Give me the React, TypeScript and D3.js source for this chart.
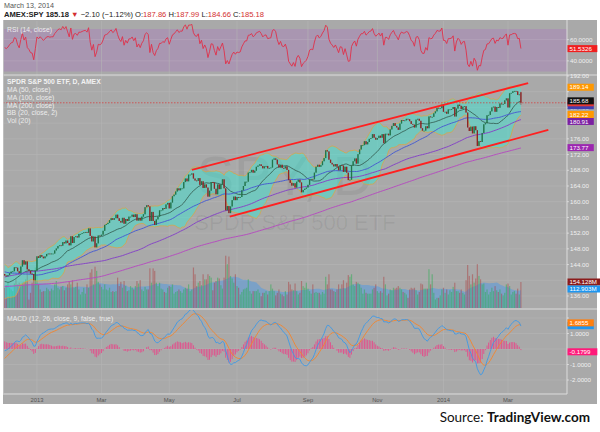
import React from 'react';
import * as d3 from 'd3';

// ---------- DATA ----------
// warm-up closes (Feb 14 2012 - Nov 30 2012), used only for indicator history
const warmCloses = [
  134.8, 134.3, 135.9, 136.1, 136.2, 135.8, 136.4, 136.7, 137.0, 137.4, 137.0,
  138.3, 137.3, 137.6, 135.6, 136.4, 137.7, 138.3, 137.9, 140.5, 140.8, 141.2, 140.9, 140.3, 139.5, 139.9, 140.8, 142.3, 141.6, 140.9, 140.5, 141.2, 140.8,
  141.8, 141.2, 139.8, 138.2, 136.1, 137.1, 138.9, 137.1, 139.5, 139.3, 137.9, 137.6, 136.6, 137.2, 139.0, 140.1, 140.3, 140.8, 140.7, 139.9,
  140.2, 139.6, 137.0, 136.7, 135.9, 135.8, 136.2, 134.7, 133.7, 132.8, 132.4, 130.8, 129.7, 131.4, 131.4, 132.6, 131.1, 131.6, 133.9, 131.9, 130.0, 131.5,
  128.2, 128.2, 131.1, 131.2, 132.7, 131.3, 129.9, 131.3, 130.6, 131.9, 133.3, 133.2, 134.4, 134.1, 131.4, 131.8, 130.2, 130.6, 131.7, 133.3, 136.1,
  136.5, 137.2, 135.9, 134.1, 133.0, 132.9, 132.0, 131.8, 133.8, 133.5, 134.4, 135.3, 136.5, 135.3, 133.1, 132.0, 132.1, 134.3, 137.3, 137.7, 136.7,
  137.5, 136.5, 136.4, 139.4, 139.8, 140.7, 140.9, 140.8, 140.8, 141.0, 141.0, 140.6, 141.7, 142.0, 142.2, 141.9, 140.4, 141.0, 140.0, 140.6, 140.6, 139.9, 141.2,
  141.3, 140.9, 143.8, 144.3, 143.5, 143.9, 144.4, 146.6, 146.6, 146.5, 146.1, 146.1, 146.2, 145.9, 144.6, 143.3, 144.6, 143.7, 143.3,
  145.1, 145.3, 146.1, 146.1, 145.7, 144.5, 143.1, 143.0, 142.9, 143.7, 145.4, 146.0, 146.0, 144.1, 143.6, 143.5, 140.0, 140.0, 141.5, 141.0, 141.3,
  142.7, 141.5, 142.6, 144.0, 140.2, 138.6, 138.4, 138.4, 137.4, 135.8, 136.0, 136.3, 139.2, 139.3, 139.4, 141.2, 141.0, 140.3, 141.0, 141.9, 141.6,
];

// displayed daily closes, Dec 3 2012 - Mar 13 2014
const closes = [
  // Dec 2012
  141.2, 141.0, 141.3, 141.8, 142.2, 142.3, 143.3, 143.2, 142.3, 141.8, 143.5, 145.1, 144.0, 144.8, 142.8, 142.4, 141.7, 141.6, 140.0, 142.4,
  // Jan 2013
  146.1, 145.7, 146.4, 146.0, 145.6, 146.1, 146.7, 146.8, 146.7, 146.8, 146.8, 147.6, 148.1, 148.7, 148.9, 148.8, 149.7, 149.4, 150.1, 149.5, 148.9,
  // Feb
  151.2, 149.5, 151.0, 151.2, 150.9, 151.8, 151.8, 152.0, 152.2, 152.3, 152.1, 153.2, 151.3, 149.9, 151.1, 148.4, 149.4, 151.4, 151.3,
  // Mar
  151.6, 152.6, 154.1, 154.3, 154.6, 155.3, 155.8, 155.4, 155.8, 156.7, 155.8, 155.1, 154.7, 155.9, 154.4, 155.6, 155.1, 156.2, 156.2, 156.7,
  // Apr
  156.1, 156.8, 155.2, 155.9, 155.2, 156.2, 156.8, 158.6, 159.1, 158.8, 155.1, 157.4, 155.1, 154.1, 155.5, 156.2, 157.8, 157.8, 158.4, 158.2, 159.3, 159.7,
  // May
  158.3, 159.8, 161.4, 161.8, 162.6, 163.4, 162.9, 163.4, 163.4, 165.0, 165.9, 165.2, 166.9, 166.9, 167.2, 165.9, 165.4, 165.3, 166.0, 164.3, 165.2, 163.5,
  // Jun
  164.4, 163.6, 161.3, 162.8, 165.0, 164.9, 163.3, 161.9, 164.4, 163.2, 164.4, 165.7, 163.4, 157.8, 158.9, 157.1, 158.8, 160.4, 161.3, 160.4,
  // Jul
  161.2, 161.0, 161.2, 162.9, 164.0, 165.1, 165.1, 167.4, 167.5, 168.1, 167.4, 167.9, 168.9, 169.2, 169.5, 169.1, 168.5, 169.0, 169.1, 168.5, 168.6, 168.7,
  // Aug
  170.7, 171.0, 170.7, 169.5, 168.7, 169.4, 168.6, 168.5, 169.0, 168.1, 165.5, 164.8, 164.1, 164.7, 163.6, 165.1, 165.6, 164.9, 162.4, 163.0, 163.3, 163.6,
  // Sep
  164.3, 165.6, 165.8, 165.7, 167.4, 168.9, 169.4, 168.9, 169.3, 170.3, 171.1, 173.1, 172.8, 170.7, 169.9, 169.5, 169.0, 169.6, 168.9, 168.0,
  // Oct
  169.3, 169.2, 167.6, 168.9, 167.4, 165.5, 165.6, 169.2, 170.3, 171.0, 169.7, 172.1, 173.3, 174.4, 174.4, 175.4, 174.6, 175.2, 176.0, 176.2, 177.2, 176.3, 175.8,
  // Nov
  176.2, 176.8, 176.3, 177.2, 174.9, 177.3, 177.3, 176.9, 178.4, 179.3, 180.0, 179.3, 178.9, 178.3, 179.9, 180.8, 180.6, 180.7, 181.1, 181.0,
  // Dec
  180.5, 179.8, 179.6, 178.9, 180.9, 181.1, 180.6, 178.7, 178.1, 178.1, 179.2, 178.7, 181.7, 181.5, 181.6, 182.5, 183.0, 183.9, 183.8, 183.8, 184.7,
  // Jan 2014
  182.9, 182.9, 182.4, 183.5, 183.5, 183.6, 184.1, 181.7, 183.7, 184.7, 184.4, 183.6, 184.2, 184.3, 182.7, 178.9, 178.0, 179.1, 177.4, 179.2, 178.2,
  // Feb
  174.2, 175.4, 175.2, 177.5, 179.7, 180.0, 182.0, 182.1, 183.0, 184.0, 184.2, 182.9, 184.1, 183.9, 185.0, 184.8, 184.9, 185.8, 186.3,
  // Mar
  184.0, 187.6, 187.7, 188.1, 188.2, 188.1, 187.2, 187.3, 185.18,
];

// last session OHLC (from header)
const lastOpen = 187.86;
const lastHigh = 187.99;
const lastLow = 184.66;

// warm-up volumes (millions), last 19 sessions of Nov 2012
const warmVolumes = [130, 140, 150, 120, 180, 200, 160, 170, 150, 140, 100, 120, 60, 110, 120, 130, 110, 150, 170];

// displayed volumes (millions)
const volumes = [
  120, 135, 150, 120, 110, 100, 145, 170, 140, 150, 140, 150, 155, 170, 245, 50, 90, 150, 160, 240,
  200, 140, 110, 95, 100, 100, 120, 110, 100, 115, 105, 140, 160, 120, 110, 125, 130, 105, 120, 140, 160,
  140, 165, 120, 125, 150, 110, 80, 95, 120, 85, 140, 120, 210, 230, 140, 245, 220, 155, 140,
  125, 110, 140, 110, 105, 120, 95, 100, 95, 100, 180, 130, 155, 120, 160, 130, 100, 105, 130, 120,
  110, 130, 160, 145, 165, 110, 100, 125, 110, 110, 235, 150, 235, 220, 150, 130, 150, 115, 110, 95, 90, 120,
  130, 125, 140, 85, 95, 100, 110, 100, 90, 110, 120, 115, 140, 100, 110, 240, 200, 130, 150, 160, 135, 200,
  170, 170, 200, 190, 180, 105, 150, 160, 180, 175, 135, 115, 180, 310, 260, 305, 190, 175, 150, 200,
  130, 120, 80, 95, 110, 115, 120, 170, 100, 85, 100, 100, 100, 110, 90, 70, 90, 90, 100, 80, 100, 140,
  115, 100, 75, 90, 110, 85, 80, 70, 100, 80, 155, 140, 110, 105, 145, 100, 80, 90, 160, 130, 120, 150,
  115, 100, 85, 140, 90, 95, 90, 90, 80, 95, 85, 185, 140, 200, 110, 110, 100, 95, 110, 140,
  115, 140, 165, 115, 150, 195, 185, 200, 140, 130, 155, 150, 140, 120, 85, 110, 90, 85, 85, 85, 110, 120, 140,
  100, 90, 100, 90, 185, 140, 75, 85, 110, 105, 120, 115, 120, 130, 120, 110, 95, 90, 80, 60,
  110, 120, 115, 120, 105, 80, 95, 145, 140, 115, 115, 115, 230, 140, 200, 90, 50, 60, 60, 75, 110,
  120, 90, 110, 80, 105, 95, 125, 150, 100, 100, 90, 110, 90, 80, 165, 255, 190, 140, 200, 150, 175,
  260, 190, 170, 140, 145, 95, 110, 80, 95, 120, 100, 130, 105, 95, 110, 85, 75, 90, 140,
  145, 130, 80, 95, 100, 85, 115, 80, 154.128,
];

// time axis labels: bar index of first session of each labelled month
const monthIdx = [20, 60, 102, 144, 188, 231, 272, 312];
const monthText = ['2013', 'Mar', 'May', 'Jul', 'Sep', 'Nov', '2014', 'Mar'];

const priceTicks = [192, 188, 184, 180, 176, 172, 168, 164, 160, 156, 152, 148, 144, 140, 136];
const rsiTicks = [60, 40];
const macdTicks = [2, 1, 0, -1, -2];

// drawn trend channel (bar index, price)
const upperIdx = [116, 324.5];
const upperPx = [168.1, 190.2];
const lowerIdx = [139.5, 337];
const lowerPx = [156.2, 178.3];

// axis value badges (value, colour, text shown?)
const priceBadgeVals = [184.43, 185.18, 180.91, 173.77, 182.22, 189.14, 185.68];
const priceBadgeCols = ['#3f3fb0', '#e53935', '#7b1fa2', '#9c27b0', '#ff9800', '#ff9800', '#111111'];
const priceBadgeShown = [false, false, true, true, true, true, true];
const volBadgeVals = [154.128, 112.903];
const volBadgeText = ['154.128M', '112.903M'];
const volBadgeCols = ['#8b1c1c', '#1e96f0'];
const rsiBadgeVal = 51.5326;
const macdBadgeVals = [1.5056, 1.6855, -0.1799];
const macdBadgeCols = ['#1e96f0', '#ff7f0e', '#ff1a7a'];
const macdBadgeShown = [false, true, true];

// ---------- INDICATORS ----------
const all = warmCloses.concat(closes);
const OFF = warmCloses.length;
const N = closes.length;
const allVol = warmVolumes.concat(volumes);
const VOFF = warmVolumes.length;

function sma(arr: number[], p: number, j: number) {
  if (j < p - 1) return NaN;
  let s = 0;
  for (let k = j - p + 1; k <= j; k++) s += arr[k];
  return s / p;
}
function sd(arr: number[], p: number, j: number) {
  const m = sma(arr, p, j);
  let s = 0;
  for (let k = j - p + 1; k <= j; k++) s += (arr[k] - m) ** 2;
  return Math.sqrt(s / p);
}
function ema(arr: number[], p: number) {
  const k = 2 / (p + 1);
  const out: number[] = [];
  let e = arr[0];
  arr.forEach((v, j) => {
    e = j === 0 ? v : v * k + e * (1 - k);
    out.push(e);
  });
  return out;
}
const e12 = ema(all, 12);
const e26 = ema(all, 26);
const macdAll = all.map((_, j) => e12[j] - e26[j]);
const sigAll = ema(macdAll, 9);

const rsiAll: number[] = [];
{
  let ag = 0, al = 0;
  rsiAll.push(NaN);
  for (let j = 1; j < all.length; j++) {
    const ch = all[j] - all[j - 1];
    const g = Math.max(ch, 0), l = Math.max(-ch, 0);
    if (j <= 14) {
      ag += g / 14; al += l / 14;
      rsiAll.push(j === 14 ? 100 - 100 / (1 + ag / (al || 1e-9)) : NaN);
    } else {
      ag = (ag * 13 + g) / 14; al = (al * 13 + l) / 14;
      rsiAll.push(100 - 100 / (1 + ag / (al || 1e-9)));
    }
  }
}

const bars = closes.map((c, i) => {
  const j = i + OFF;
  const open = i === N - 1 ? lastOpen : all[j - 1];
  const b = sma(all, 20, j);
  const dv = sd(all, 20, j);
  return {
    i, c, open,
    high: i === N - 1 ? lastHigh : Math.max(open, c),
    low: i === N - 1 ? lastLow : Math.min(open, c),
    vol: volumes[i],
    volMa: sma(allVol, 20, i + VOFF),
    ma50: sma(all, 50, j), ma100: sma(all, 100, j), ma200: sma(all, 200, j),
    bbMid: b, bbUp: b + 2 * dv, bbLo: b - 2 * dv,
    rsi: rsiAll[j], macd: macdAll[j], sig: sigAll[j], hist: macdAll[j] - sigAll[j],
  };
});

// ---------- LAYOUT ----------
const L = 3, R = 567, AX = 597;
const rsiTop = 21, rsiBot = 74;
const pTop = 76, pBot = 308;
const mTop = 310, mBot = 393;

const x = d3.scaleLinear().domain([0, 320]).range([4.7, 520.9]);
const yP = d3.scaleLinear().domain([136, 192]).range([296, 76]);
const yV = d3.scaleLinear().domain([0, 154.128]).range([pBot, 282]);
const yR = d3.scaleLinear().domain([30, 70]).range([71.5, 29]);
const yM = d3.scaleLinear().domain([-2, 2]).range([380, 318]);

const FONT = '"Liberation Sans", Arial, sans-serif';
const GRID = '#b5b5b5';
const BH = 7;

function lineOf(acc: (b: any) => number, y: any) {
  return d3.line<any>().defined(b => !isNaN(acc(b))).x(b => x(b.i)).y(b => y(acc(b)))(bars) || '';
}

// place visible badges top-down so that they do not overlap (like the axis does)
function placeBadges(ys: number[], shown: boolean[]) {
  const order = ys.map((y, k) => k).filter(k => shown[k]).sort((a, b) => ys[a] - ys[b]);
  const out = ys.slice();
  let prev = -Infinity;
  order.forEach(k => {
    out[k] = Math.max(ys[k], prev + BH);
    prev = out[k];
  });
  return out;
}

function Badge({ y, text, color, shown = true }: { y: number; text: string; color: string; shown?: boolean }) {
  const width = text.length * 3.55 + 5;
  return (
    <g>
      <rect x={R + 0.5} y={y - BH / 2} width={width} height={BH} fill={color} />
      {shown && <text x={R + 2.5} y={y + 2.2} fontSize={6.2} fill="#fff" fontFamily={FONT}>{text}</text>}
    </g>
  );
}

export default function App() {
  const bbArea = d3.area<any>().x(b => x(b.i)).y0(b => yP(b.bbLo)).y1(b => yP(b.bbUp))(bars) || '';
  const volArea = d3.area<any>().x(b => x(b.i)).y0(pBot).y1(b => yV(b.volMa))(bars) || '';
  const last = bars[N - 1];
  const tl = (idx: number[], px: number[]) =>
    d3.line<number>().x((_, k) => x(idx[k])).y(v => yP(v))(px) || '';

  const pY = placeBadges(priceBadgeVals.map(v => yP(v)), priceBadgeShown);
  const vY = placeBadges(volBadgeVals.map(v => yV(v)), [true, true]);
  const mY = placeBadges(macdBadgeVals.map(v => yM(v)), macdBadgeShown);
  const rY = yR(rsiBadgeVal);
  const taken = [...pY.filter((_, k) => priceBadgeShown[k]), ...vY, ...mY.filter((_, k) => macdBadgeShown[k]), rY];
  const free = (y: number) => taken.every(t => Math.abs(t - y) > 6.5);

  return (
    <svg width={600} height={432} style={{ position: 'absolute', left: 0, top: 0, display: 'block' }} fontFamily={FONT}>
      <defs>
        <clipPath id="pclip"><rect x={L} y={pTop} width={R - L} height={pBot - pTop} /></clipPath>
        <clipPath id="mclip"><rect x={L} y={mTop} width={R - L} height={mBot - mTop} /></clipPath>
        <clipPath id="rclip"><rect x={L} y={rsiTop} width={R - L} height={rsiBot - rsiTop} /></clipPath>
      </defs>
      <rect width={600} height={432} fill="#fff" />

      {/* header */}
      <text x={4} y={8.3} fontSize={7.2} fill="#555">March 13, 2014</text>
      <text x={4} y={17.3} fontSize={7.6} fill="#222">
        <tspan fontWeight="bold">AMEX:SPY 185.18 </tspan>
        <tspan fill="#d32f2f">▼</tspan>
        <tspan> −2.10 (−1.12%) O:</tspan><tspan fill="#d32f2f">187.86</tspan>
        <tspan> H:</tspan><tspan fill="#d32f2f">187.99</tspan>
        <tspan> L:</tspan><tspan fill="#d32f2f">184.66</tspan>
        <tspan> C:</tspan><tspan fill="#d32f2f">185.18</tspan>
      </text>

      {/* panel background */}
      <rect x={L} y={20} width={AX - L} height={384} fill="#a9a9a9" />

      {/* RSI panel */}
      <rect x={L} y={yR(70)} width={R - L} height={yR(30) - yR(70)} fill="#a996b1" />
      {rsiTicks.map(t => (
        <line key={t} x1={L} x2={R} y1={yR(t)} y2={yR(t)} stroke="#b7a8bd" strokeWidth={0.6} />
      ))}

      {/* grid */}
      {priceTicks.map(t => (
        <line key={t} x1={L} x2={R} y1={yP(t)} y2={yP(t)} stroke={GRID} strokeWidth={0.6} />
      ))}
      {macdTicks.map(t => (
        <line key={t} x1={L} x2={R} y1={yM(t)} y2={yM(t)} stroke={GRID} strokeWidth={0.6} />
      ))}
      {monthIdx.map((m, k) => (
        <line key={k} x1={x(m)} x2={x(m)} y1={rsiTop} y2={mBot} stroke={GRID} strokeWidth={0.6} />
      ))}

      {/* RSI line */}
      <g clipPath="url(#rclip)">
        <path d={lineOf(b => b.rsi, yR)} fill="none" stroke="#e0304a" strokeWidth={0.9} />
      </g>
      <text x={7} y={32} fontSize={6.8} fill="#ececec">RSI (14, close)</text>

      {/* watermark */}
      <text x={285} y={195} fontSize={56} textAnchor="middle" fill="rgba(0,0,0,0.06)">SPY, D</text>
      <text x={295} y={230} fontSize={22} textAnchor="middle" fill="rgba(0,0,0,0.06)">SPDR S&amp;P 500 ETF</text>

      {/* price panel */}
      <g clipPath="url(#pclip)">
        <path d={volArea} fill="rgba(60,150,240,0.42)" />
        {bars.map(b => (
          <rect key={'v' + b.i} x={x(b.i) - 0.6} width={1.2} y={yV(b.vol)} height={pBot - yV(b.vol)}
            fill={b.c >= b.open ? 'rgba(40,175,80,0.5)' : 'rgba(175,45,45,0.42)'} />
        ))}
        <path d={bbArea} fill="rgba(40,240,220,0.42)" />
        <path d={lineOf(b => b.bbUp, yP)} fill="none" stroke="#e3a43a" strokeWidth={0.7} />
        <path d={lineOf(b => b.bbLo, yP)} fill="none" stroke="#e3a43a" strokeWidth={0.7} />
        <path d={lineOf(b => b.bbMid, yP)} fill="none" stroke="#27463a" strokeWidth={0.7} />
        <path d={lineOf(b => b.ma200, yP)} fill="none" stroke="#b54fbf" strokeWidth={1} />
        <path d={lineOf(b => b.ma100, yP)} fill="none" stroke="#8646c6" strokeWidth={1} />
        <path d={lineOf(b => b.ma50, yP)} fill="none" stroke="#4a5fd0" strokeWidth={1} />
        {bars.map(b => {
          const up = b.c >= b.open;
          const col = up ? '#22744a' : '#8e2424';
          const top = yP(Math.max(b.open, b.c));
          const h = Math.max(0.8, Math.abs(yP(b.open) - yP(b.c)));
          return (
            <g key={'c' + b.i}>
              <line x1={x(b.i)} x2={x(b.i)} y1={yP(b.high)} y2={yP(b.low)} stroke={col} strokeWidth={0.5} />
              <rect x={x(b.i) - 0.65} width={1.3} y={top} height={h} fill={col} />
            </g>
          );
        })}
        <line x1={L} x2={R} y1={yP(last.c)} y2={yP(last.c)} stroke="#e02020" strokeWidth={0.6} strokeDasharray="1.5,1.5" />
        <path d={tl(upperIdx, upperPx)} stroke="#ff2020" strokeWidth={1.8} fill="none" />
        <path d={tl(lowerIdx, lowerPx)} stroke="#ff2020" strokeWidth={1.8} fill="none" />
      </g>
      <text x={7} y={84} fontSize={6.8} fill="#f2f2f2" fontWeight="bold">SPDR S&amp;P 500 ETF, D, AMEX</text>
      {['MA (50, close)', 'MA (100, close)', 'MA (200, close)', 'BB (20, close, 2)', 'Vol (20)'].map((t, k) => (
        <text key={t} x={7} y={92 + k * 7.8} fontSize={6.8} fill="#ececec">{t}</text>
      ))}

      {/* MACD panel */}
      <g clipPath="url(#mclip)">
        {bars.map(b => (
          <rect key={'h' + b.i} x={x(b.i) - 0.45} width={0.9}
            y={Math.min(yM(0), yM(b.hist))} height={Math.abs(yM(b.hist) - yM(0))} fill="#e2508c" />
        ))}
        <path d={lineOf(b => b.sig, yM)} fill="none" stroke="#f5842a" strokeWidth={0.9} />
        <path d={lineOf(b => b.macd, yM)} fill="none" stroke="#3d98e6" strokeWidth={0.9} />
      </g>
      <text x={7} y={321} fontSize={6.8} fill="#ececec">MACD (12, 26, close, 9, false, true)</text>

      {/* separators */}
      <line x1={L} x2={AX} y1={75} y2={75} stroke="#dcdcdc" strokeWidth={1.2} />
      <line x1={L} x2={AX} y1={309} y2={309} stroke="#dcdcdc" strokeWidth={1.2} />
      <line x1={L} x2={R} y1={394} y2={394} stroke="#dcdcdc" strokeWidth={1} />
      <line x1={R} x2={R} y1={20} y2={394} stroke="#dcdcdc" strokeWidth={1} />
      <line x1={L + 0.5} x2={L + 0.5} y1={20} y2={394} stroke="#c4c4c4" strokeWidth={0.8} />

      {/* axis ticks */}
      {priceTicks.map(t => (
        <g key={t}>
          <line x1={R} x2={R + 2} y1={yP(t)} y2={yP(t)} stroke="#eee" strokeWidth={0.6} />
          {free(yP(t)) && <text x={R + 3} y={yP(t) + 2.2} fontSize={6.2} fill="#f0f0f0">{t.toFixed(2)}</text>}
        </g>
      ))}
      {rsiTicks.map(t => (
        <g key={t}>
          <line x1={R} x2={R + 2} y1={yR(t)} y2={yR(t)} stroke="#eee" strokeWidth={0.6} />
          {free(yR(t)) && <text x={R + 3} y={yR(t) + 2.2} fontSize={6.2} fill="#f0f0f0">{t.toFixed(4)}</text>}
        </g>
      ))}
      {macdTicks.map(t => (
        <g key={t}>
          <line x1={R} x2={R + 2} y1={yM(t)} y2={yM(t)} stroke="#eee" strokeWidth={0.6} />
          {free(yM(t)) && <text x={R + 3} y={yM(t) + 2.2} fontSize={6.2} fill="#f0f0f0">{t.toFixed(4)}</text>}
        </g>
      ))}
      {monthIdx.map((m, k) => (
        <text key={k} x={x(m)} y={401.5} fontSize={5.8} textAnchor="middle" fill="#555">{monthText[k]}</text>
      ))}

      {/* value badges */}
      <Badge y={rY} text={rsiBadgeVal.toFixed(4)} color="#f01e1e" />
      {priceBadgeVals.map((v, k) => (
        <Badge key={k} y={pY[k]} text={v.toFixed(2)} color={priceBadgeCols[k]} shown={priceBadgeShown[k]} />
      ))}
      {volBadgeVals.map((v, k) => (
        <Badge key={k} y={vY[k]} text={volBadgeText[k]} color={volBadgeCols[k]} />
      ))}
      {macdBadgeVals.map((v, k) => (
        <Badge key={k} y={mY[k]} text={v.toFixed(4)} color={macdBadgeCols[k]} shown={macdBadgeShown[k]} />
      ))}

      {/* source */}
      <text x={590} y={422} fontSize={13.5} textAnchor="end" fill="#111" fontFamily="Lato, 'Open Sans', sans-serif">
        Source: <tspan fontWeight="bold">TradingView.com</tspan>
      </text>
    </svg>
  );
}
